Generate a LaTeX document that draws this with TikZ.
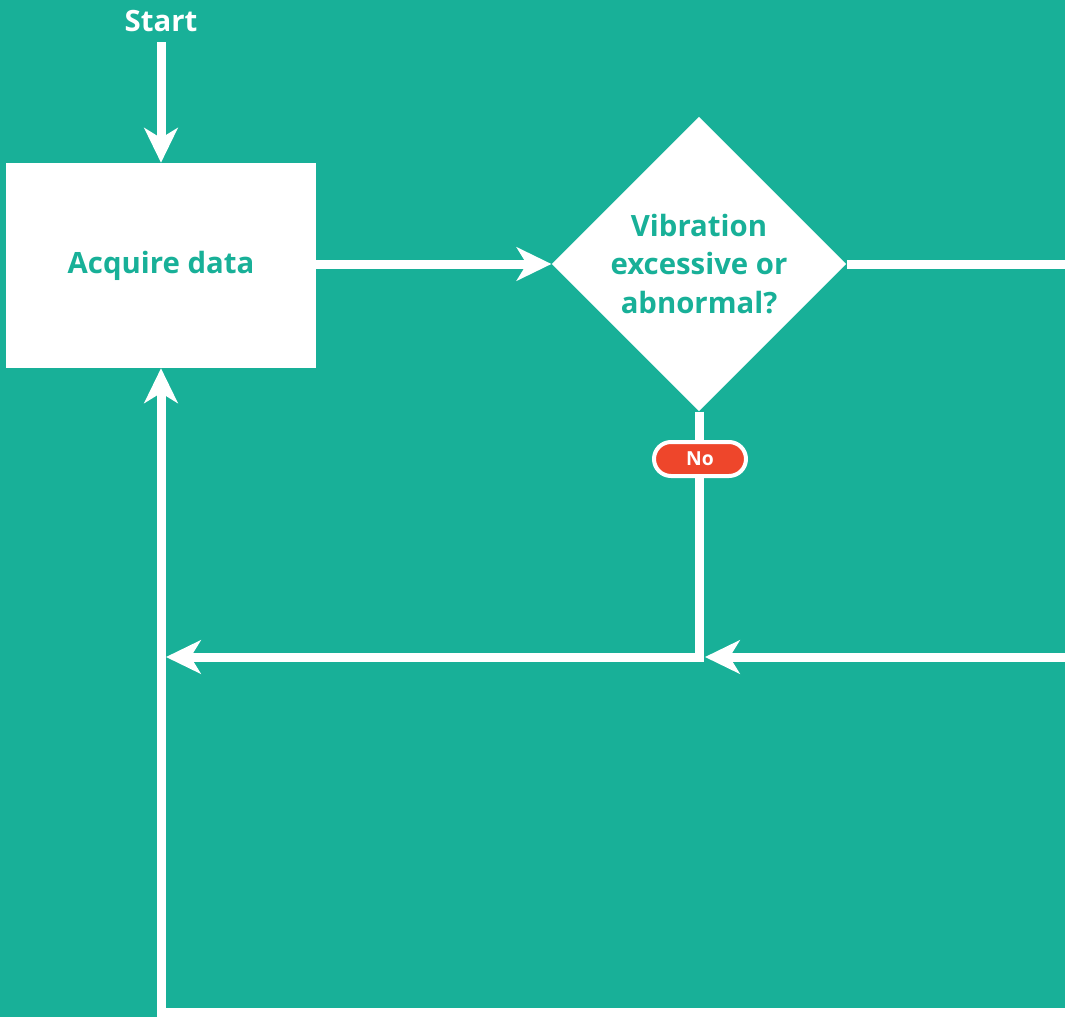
\documentclass[tikz,border=0pt]{standalone}
\usepackage{fontspec}
\setmainfont{Open Sans}
\usetikzlibrary{arrows.meta,shapes.geometric,shapes.misc}
\definecolor{teal}{HTML}{18B098}
\definecolor{alertred}{HTML}{EE462B}
\tikzset{
  flow/.style={draw=white, line width=6.75pt,
    -{Stealth[length=26pt,width=25pt,inset=7.5pt]}},
  plain/.style={draw=white, line width=6.75pt},
  stepbox/.style={rectangle, fill=white, text=teal, font=\bfseries\fontsize{22}{26}\selectfont,
    minimum width=232.5pt, minimum height=153.75pt, inner sep=0pt},
  decision/.style={diamond, aspect=1, fill=white, text=teal, align=center,
    font=\bfseries\fontsize{22}{29}\selectfont, minimum size=221pt, inner sep=0pt},
  pill/.style={rounded rectangle, fill=alertred, draw=white, line width=3pt,
    text=white, font=\bfseries\fontsize{14.5}{16}\selectfont,
    minimum width=69pt, minimum height=25.5pt, inner sep=0pt},
  label/.style={text=white, font=\bfseries\fontsize{22}{24}\selectfont, inner sep=0pt}
}
\begin{document}
\begin{tikzpicture}[x=0.75pt,y=-0.75pt]
  % canvas
  \fill[teal] (0,0) rectangle (1065,1017);
  \useasboundingbox (0,0) rectangle (1065,1017);

  % nodes
  \node[label] (start) at (161,21) {Start};
  \node[stepbox] (acq) at (161,265.5) {Acquire data};
  \node[decision] (dec) at (699,264) {Vibration\\excessive or\\abnormal?};

  % free ends at the sheet border and junctions
  \coordinate (startend) at (161,42);
  \coordinate (rightA) at (1070,264);
  \coordinate (rightB) at (1070,657);
  \coordinate (joinB) at (705,657);
  \coordinate (joinL) at (166,657);
  \coordinate (bottomR) at (1070,1012);
  \coordinate (bottomL) at (161,1012);

  % connectors
  \draw[flow] (startend) -- (acq.north);
  \draw[flow] (acq.east |- dec.west) -- (dec.west);
  \draw[plain] (dec.east) -- (rightA);
  \draw[flow] (rightB) -- (joinB);
  \draw[flow] (dec.south) |- (joinL);
  \draw[flow] (bottomR) -- (bottomL) -- (acq.south);

  % branch label
  \node[pill] (no) at (700,459) {No};
\end{tikzpicture}
\end{document}
